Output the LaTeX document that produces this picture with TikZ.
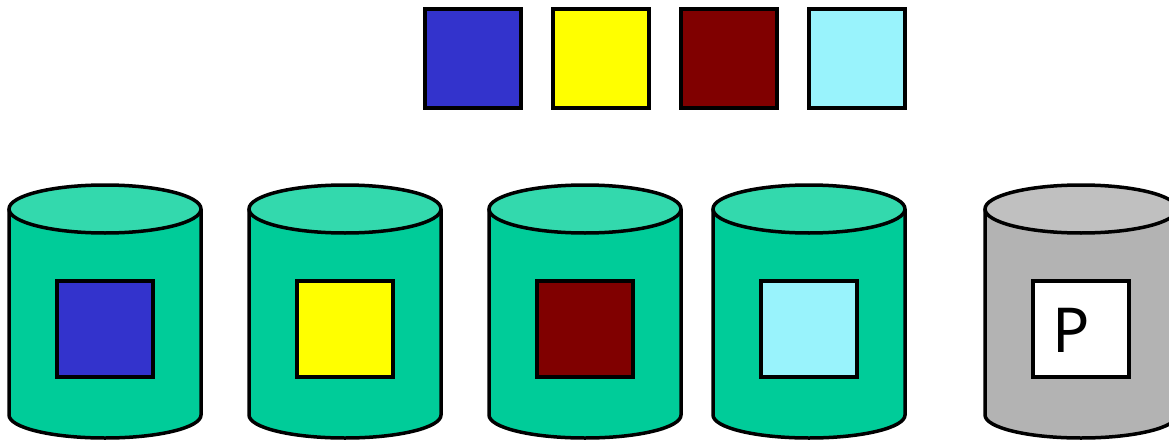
\documentclass[tikz,border=0pt]{standalone}
\usepackage{fontspec}
\newfontfamily\pfont{Noto Sans}
\definecolor{cblue}{HTML}{3333CC}
\definecolor{cyellow}{HTML}{FFFF00}
\definecolor{cmaroon}{HTML}{800000}
\definecolor{ccyan}{HTML}{99F3FC}
\definecolor{cbody}{HTML}{00CC99}
\definecolor{ctop}{HTML}{33D9AD}
\definecolor{gbody}{HTML}{B3B3B3}
\definecolor{gtop}{HTML}{C0C0C0}
\newcommand{\mycyl}[3]{%
  \fill[#2] (#1,231) -- (#1,25) arc[start angle=180,end angle=360,x radius=96,y radius=23]
    -- (#1+192,231) arc[start angle=0,end angle=180,x radius=96,y radius=24] -- cycle;
  \draw[cline] (#1,231) -- (#1,25) arc[start angle=180,end angle=360,x radius=96,y radius=23]
    -- (#1+192,231);
  \filldraw[cline,fill=#3] (#1+96,231) ellipse[x radius=96,y radius=24];
}
\begin{document}
\begin{tikzpicture}[x=1pt,y=1pt,
  cline/.style={line width=3.5pt},
  sq/.style={draw,line width=3.5pt,minimum width=96pt,minimum height=99pt,inner sep=0pt,outer sep=0pt},
  isq/.style={draw,line width=3.5pt,minimum width=96pt,minimum height=96pt,inner sep=0pt,outer sep=0pt}]
\useasboundingbox (0,0) rectangle (1169,440);
\clip (0,0) rectangle (1169,440);
\node[sq,fill=cblue] (t1) at (473,381.5) {};
\node[sq,fill=cyellow] (t2) at (601,381.5) {};
\node[sq,fill=cmaroon] (t3) at (729,381.5) {};
\node[sq,fill=ccyan] (t4) at (857,381.5) {};
\mycyl{9}{cbody}{ctop}
\mycyl{249}{cbody}{ctop}
\mycyl{489}{cbody}{ctop}
\mycyl{713}{cbody}{ctop}
\mycyl{985}{gbody}{gtop}
\node[isq,fill=cblue] (c1) at (105,111) {};
\node[isq,fill=cyellow] (c2) at (345,111) {};
\node[isq,fill=cmaroon] (c3) at (585,111) {};
\node[isq,fill=ccyan] (c4) at (809,111) {};
\node[isq,fill=white] (c5) at (1081,111) {};
\node[font=\pfont\fontsize{62}{62}\selectfont,inner sep=0pt,anchor=base] (p) at (1071,88) {P};
\end{tikzpicture}
\end{document}
